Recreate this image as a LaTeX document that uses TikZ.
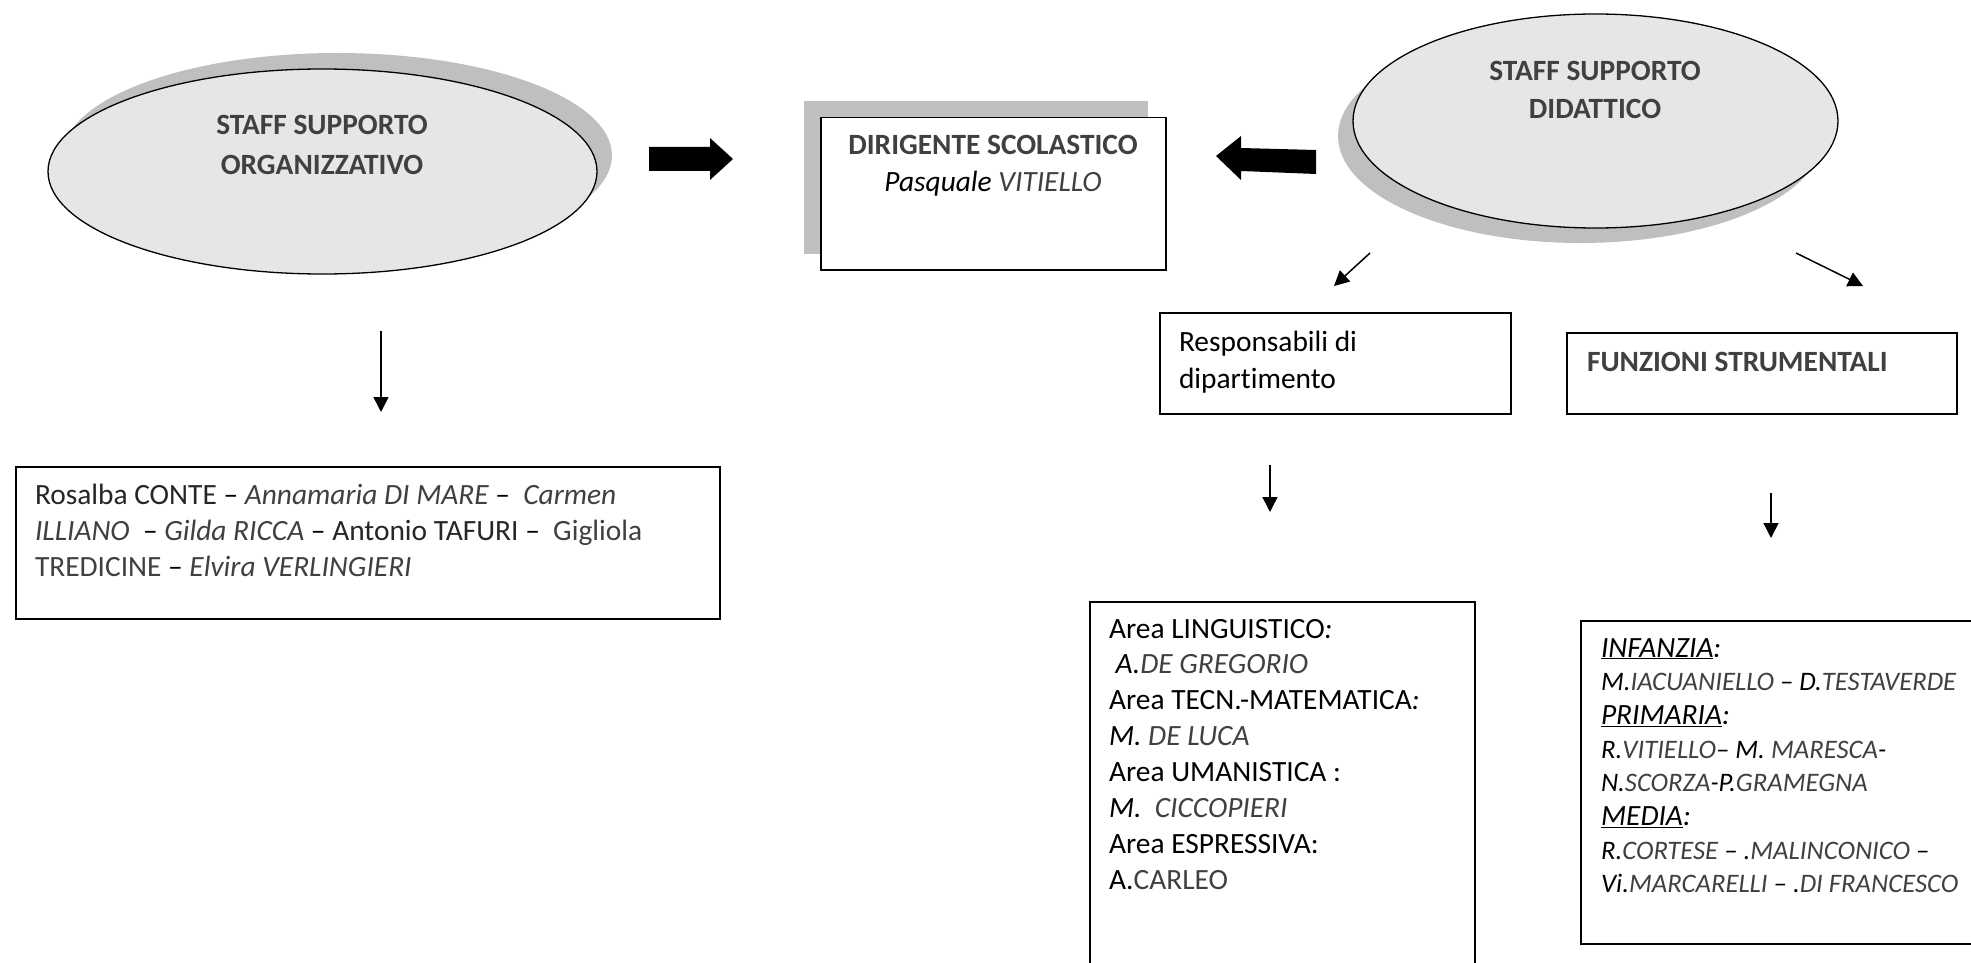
\documentclass[tikz,border=0pt]{standalone}
\usepackage{fontspec}
\setmainfont{Carlito}[Ligatures={NoCommon}]
\usetikzlibrary{arrows.meta,shapes.geometric}
\definecolor{dgray}{HTML}{404040}
\definecolor{tgray}{HTML}{262626}
\definecolor{efill}{HTML}{E6E6E6}
\definecolor{eshadow}{HTML}{BFBFBF}
\begin{document}
\begin{tikzpicture}[x=1pt,y=-1pt,
  ovalshape/.style={ellipse, draw=black, line width=1.3pt, fill=efill, inner sep=0pt},
  ovalshadow/.style={ellipse, fill=eshadow, inner sep=0pt},
  boxshape/.style={draw=black, line width=1.5pt, fill=white},
  txt/.style={inner sep=0pt, outer sep=0pt, anchor=base west, text=black},
  ctxt/.style={inner sep=0pt, outer sep=0pt, anchor=base},
  thin arrow/.style={line width=1.5pt, -{Triangle[length=15pt,width=15pt]}},
  block/.style={fill=black}
]
\useasboundingbox (0,0) rectangle (1971,963);

% ---------- left ellipse
\node[ovalshadow, minimum width=549pt, minimum height=205pt] (orgsh) at (337.5,155.5) {};
\node[ovalshape, minimum width=549pt, minimum height=205pt] (org) at (322.5,171.5) {};
\node[ctxt] (orgtxt) at (322,135) {\parbox[t]{400pt}{\leavevmode\centering\fontsize{29.4}{39.5}\selectfont\bfseries\color{dgray}STAFF SUPPORTO\\ORGANIZZATIVO}};

% ---------- right ellipse
\node[ovalshadow, minimum width=485pt, minimum height=214pt] (didsh) at (1580.5,136) {};
\node[ovalshape, minimum width=485pt, minimum height=214pt] (did) at (1595.5,121) {};
\node[ctxt] (didtxt) at (1595,81) {\parbox[t]{400pt}{\leavevmode\centering\fontsize{29.4}{38}\selectfont\bfseries\color{dgray}STAFF SUPPORTO\\DIDATTICO}};

% ---------- dirigente
\fill[eshadow] (804,101) rectangle (1148,254);
\node[boxshape, minimum width=345pt, minimum height=152pt, anchor=north west] (dir) at (820,117) {};
\node[ctxt] (dirtxt) at (993,155) {\parbox[t]{400pt}{\leavevmode\centering\fontsize{29.4}{36.5}\selectfont{\bfseries\color{dgray}DIRIGENTE SCOLASTICO}\\\itshape Pasquale {\color{dgray}VITIELLO}}};

% ---------- block arrows
\fill[block] (649,147) -- (710,147) -- (710,138) -- (733,159) -- (710,180) -- (710,171) -- (649,171) -- cycle;
\fill[block] (1216,156) -- (1241,136) -- (1241,148) -- (1316,150) -- (1316,174) -- (1241,171) -- (1241,180) -- cycle;

% ---------- second level boxes
\node[boxshape, minimum width=351pt, minimum height=101pt, anchor=north west] (resp) at (1159,312) {};
\node[txt] (resptxt) at (1179,351) {\parbox[t]{320pt}{\leavevmode\raggedright\fontsize{29.4}{37.5}\selectfont Responsabili di\\dipartimento}};

\node[boxshape, minimum width=390pt, minimum height=81pt, anchor=north west] (funz) at (1566,332) {};
\node[txt] (funztxt) at (1587,371) {\fontsize{29.4}{36}\selectfont\bfseries\color{dgray}FUNZIONI STRUMENTALI};

% ---------- bottom boxes
\node[boxshape, minimum width=704pt, minimum height=152pt, anchor=north west] (staffbox) at (15,466) {};
\node[txt] (stafftxt) at (35,504) {\parbox[t]{680pt}{\leavevmode\raggedright\fontsize{29.4}{36}\selectfont
{\color{tgray}Rosalba CONTE} – {\itshape\color{dgray}Annamaria DI MARE} – \ {\itshape\color{dgray}Carmen}\\
{\itshape\color{dgray}ILLIANO}\ \ – {\itshape\color{dgray}Gilda RICCA} – {\color{tgray}Antonio TAFURI} – \ {\color{dgray}Gigliola}\\
{\color{dgray}TREDICINE} – {\itshape\color{dgray}Elvira VERLINGIERI}}};

\node[boxshape, minimum width=385pt, minimum height=370pt, anchor=north west] (areabox) at (1089,601) {};
\node[txt] (areatxt) at (1109,638) {\parbox[t]{360pt}{\leavevmode\raggedright\fontsize{29.4}{35.9}\selectfont
Area LINGUISTICO{\itshape :}\\
\ {\itshape A.{\color{dgray}DE GREGORIO}}\\
Area TECN.-MATEMATICA{\itshape :}\\
{\itshape M. {\color{dgray}DE LUCA}}\\
Area UMANISTICA :\\
{\itshape M.\ \ {\color{dgray}CICCOPIERI}}\\
Area ESPRESSIVA:\\
A.{\color{dgray}CARLEO}}};

\node[boxshape, minimum width=410pt, minimum height=323pt, anchor=north west] (fsbox) at (1580,620) {};
\node[txt] (fstxt) at (1601,657) {\parbox[t]{400pt}{\leavevmode\raggedright\fontsize{26.7}{33.7}\selectfont\itshape
{\fontsize{29.4}{33.7}\selectfont\underline{INFANZIA}:}\\
M.{\color{dgray}IACUANIELLO} – D.{\color{dgray}TESTAVERDE}\\
{\fontsize{29.4}{33.7}\selectfont\underline{PRIMARIA}:}\\
R.{\color{dgray}VITIELLO}– M. {\color{dgray}MARESCA}-\\
N.{\color{dgray}SCORZA}-P.{\color{dgray}GRAMEGNA}\\
{\fontsize{29.4}{33.7}\selectfont\underline{MEDIA}:}\\
R.{\color{dgray}CORTESE} – .{\color{dgray}MALINCONICO} –\\
Vi.{\color{dgray}MARCARELLI} – .{\color{dgray}DI FRANCESCO}}};

% ---------- thin arrows
\coordinate (a1s) at (381,331); \coordinate (a1e) at (381,412);
\coordinate (a2s) at (1370,253); \coordinate (a2e) at (1334,286);
\coordinate (a3s) at (1796,253); \coordinate (a3e) at (1863,286);
\coordinate (a4s) at (1270,465); \coordinate (a4e) at (1270,512);
\coordinate (a5s) at (1771,493); \coordinate (a5e) at (1771,538);
\draw[thin arrow] (a1s) -- (a1e);
\draw[thin arrow] (a2s) -- (a2e);
\draw[thin arrow] (a3s) -- (a3e);
\draw[thin arrow] (a4s) -- (a4e);
\draw[thin arrow] (a5s) -- (a5e);
\end{tikzpicture}
\end{document}
